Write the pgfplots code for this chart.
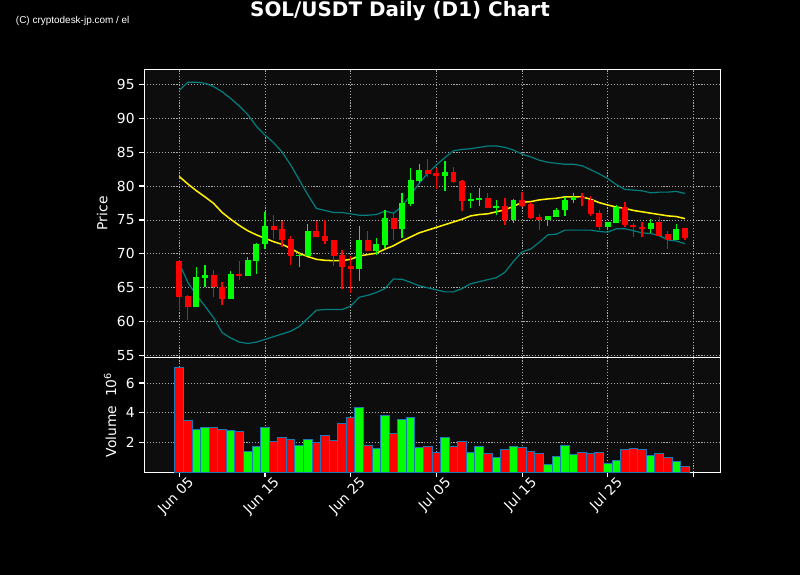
\documentclass[border=0pt]{standalone}
\usepackage{pgfplots}
\usepackage{pgfplotstable}
\pgfplotsset{compat=1.18}
\usepackage{fontspec}
\setmainfont{DejaVu Sans}
\newfontfamily\wmfont{Liberation Sans}
\definecolor{candred}{RGB}{255,0,0}
\definecolor{candgreen}{RGB}{0,255,0}
\definecolor{bandteal}{RGB}{0,128,128}
\definecolor{edgeblue}{RGB}{31,119,180}
\definecolor{axbg}{RGB}{13,13,13}
\definecolor{gridgray}{RGB}{170,170,170}

\pgfplotstableread{
d o h l c v
0 68.96 69.1 61.6 63.7 7.02
1 63.8 63.9 60.3 62.2 3.49
4 66.9 67.6 63.6 65.1 3.02
5 65.1 65.8 62.4 63.3 2.89
7 67.0 68.9 66.1 66.8 2.76
11 74.1 75.7 72.2 73.5 2.09
12 73.7 74.8 71.0 72.05 2.36
13 72.2 72.7 68.3 69.7 2.22
16 73.4 74.8 72.5 72.5 2.02
17 72.6 75.0 71.4 71.95 2.49
18 72.0 72.1 68.2 69.7 2.16
19 69.8 70.6 64.8 68.1 3.29
20 68.2 69.7 64.3 67.8 3.69
22 72.05 73.3 70.4 70.4 1.82
25 75.3 75.9 72.0 73.7 2.62
29 82.4 84.0 81.3 81.8 1.76
30 81.9 82.6 79.5 81.5 1.36
32 82.1 82.8 80.4 80.65 1.76
33 80.75 80.9 76.3 77.8 2.09
36 78.3 78.9 76.8 76.8 1.29
38 77.1 78.2 74.3 75.05 1.56
40 77.95 79.1 76.9 77.1 1.69
41 77.4 77.7 75.1 75.3 1.42
42 75.4 75.9 73.5 75.05 1.29
47 78.4 78.9 77.1 78.25 1.36
48 77.95 78.6 75.6 75.9 1.29
49 75.95 76.5 73.5 74.0 1.36
52 76.9 77.6 73.9 74.2 1.56
53 74.3 74.6 72.45 73.9 1.62
54 74.0 74.65 72.45 73.7 1.56
56 74.7 75.4 72.5 72.7 1.29
57 72.9 73.3 70.7 72.0 1.02
59 73.8 73.8 72.0 72.4 0.42
}\redtab

\pgfplotstableread{
d o h l c v
2 62.2 68.0 62.1 66.6 2.89
3 66.5 68.3 65.1 66.9 3.02
6 63.3 67.5 63.3 67.0 2.82
8 66.8 69.6 66.7 69.1 1.42
9 69.0 71.6 67.0 71.5 1.76
10 71.4 76.1 70.7 74.1 3.02
14 69.7 70.2 68.0 69.9 1.82
15 69.7 74.4 69.7 73.4 2.22
21 67.8 74.1 66.0 72.05 4.36
23 70.4 72.4 69.8 71.5 1.62
24 71.3 76.5 70.8 75.3 3.82
26 73.7 79.0 72.3 77.5 3.56
27 77.4 82.7 77.1 80.9 3.69
28 80.7 83.2 80.4 82.4 1.69
31 81.5 83.7 79.3 82.1 2.36
34 77.8 78.9 76.7 78.1 1.36
35 77.9 79.7 77.1 78.3 1.76
37 76.8 77.9 75.7 77.1 1.02
39 75.05 78.05 74.6 77.95 1.76
43 75.05 75.6 74.05 75.6 0.56
44 75.5 76.7 75.5 76.5 1.09
45 76.4 78.4 75.6 77.95 1.82
46 77.9 78.9 77.5 78.4 1.22
50 74.0 74.7 73.5 74.7 0.62
51 74.6 77.2 74.5 76.9 0.82
55 73.7 75.1 73.1 74.55 1.16
58 72.0 74.4 72.0 73.7 0.76
}\greentab

\pgfplotstableread{
d mid up lo
0 81.4 94.1 68.6
1 80.3 95.3 65.8
2 79.3 95.3 63.9
3 78.4 95.15 62.3
4 77.45 94.65 60.6
5 76.1 93.9 58.4
6 75.1 92.9 57.6
7 74.2 91.8 57.0
8 73.4 90.5 56.8
9 72.8 88.8 57.0
10 72.3 87.5 57.4
11 71.8 86.4 57.8
12 71.4 85.0 58.2
13 70.8 83.1 58.6
14 70.1 80.9 59.3
15 69.6 78.7 60.5
16 69.2 76.7 61.7
17 69.05 76.4 61.8
18 69.0 76.1 61.8
19 69.0 76.1 61.8
20 69.2 75.9 62.3
21 69.7 75.7 63.6
22 69.9 75.7 63.9
23 70.1 75.8 64.3
24 70.7 76.3 64.9
25 71.2 76.0 66.3
26 71.9 77.0 66.25
27 72.5 78.7 65.8
28 73.1 80.4 65.3
29 73.5 81.9 65.0
30 73.9 83.1 64.7
31 74.3 84.2 64.4
32 74.7 85.2 64.4
33 75.1 85.4 64.9
34 75.6 85.5 65.6
35 75.8 85.7 65.9
36 75.9 85.9 66.2
37 76.2 85.9 66.5
38 76.5 85.7 67.3
39 77.0 85.3 68.9
40 77.6 84.7 70.3
41 77.7 84.3 70.7
42 77.95 83.8 71.7
43 78.1 83.5 72.8
44 78.2 83.35 72.9
45 78.4 83.2 73.5
46 78.4 83.2 73.5
47 78.4 83.0 73.5
48 78.05 82.4 73.5
49 77.55 81.8 73.3
50 77.2 81.1 73.2
51 76.9 80.2 73.7
52 76.7 79.5 73.7
53 76.4 79.4 73.4
54 76.2 79.3 73.1
55 76.0 79.0 73.0
56 75.8 79.1 72.7
57 75.6 79.1 72.05
58 75.5 79.2 71.9
59 75.2 78.9 71.5
}\bandtab

\pgfplotsset{
  darkaxis/.style={
    scale only axis,
    width=414.7bp,
    xmin=-4.08, xmax=63.13,
    axis background/.style={fill=axbg},
    axis line style={white, line width=0.8bp},
    tick style={white, line width=0.8bp},
    tick align=outside,
    major tick length=3.5bp,
    xtick pos=bottom, ytick pos=left,
    grid=major,
    grid style={gridgray, line width=0.6bp, dash pattern=on 0.8bp off 1.3bp},
    ticklabel style={white, font=\fontsize{10}{12}\selectfont},
    label style={white, font=\fontsize{10}{12}\selectfont},
    /pgf/number format/assume math mode=true,
    xtick={0,10,...,60},
  },
}

\begin{document}
\begin{tikzpicture}
\fill[black] (0,0) rectangle (576bp,414bp);

% title and watermark
\node[anchor=base, text=white, font=\fontsize{14.4}{16}\selectfont\bfseries] at (288bp,402bp) {SOL/USDT Daily (D1) Chart};
\node[anchor=west, text=white, inner sep=0pt, font=\wmfont\fontsize{7.2}{8}\selectfont] at (11.3bp,399.2bp) {(C) cryptodesk-jp.com / el};

% price panel
\begin{axis}[darkaxis,
  at={(103.9bp,156.7bp)}, anchor=south west,
  height=207.4bp,
  ymin=54.75, ymax=97.2,
  ytick={55,60,...,95},
  xticklabels={}, xtick style={draw=none},
  ylabel={Price},
]
% bands
\addplot[bandteal, line width=0.85bp, mark=none] table[x=d, y=up] {\bandtab};
\addplot[bandteal, line width=0.85bp, mark=none] table[x=d, y=lo] {\bandtab};
\addplot[yellow, line width=1.1bp, mark=none] table[x=d, y=mid] {\bandtab};
% wicks
\addplot[draw=none, mark=none, error bars/.cd, y dir=plus, y explicit, error mark=none,
  error bar style={draw=candred, line width=0.9bp}]
  table[x=d, y=l, y error plus expr=\thisrow{h}-\thisrow{l}] {\redtab};
\addplot[draw=none, mark=none, error bars/.cd, y dir=plus, y explicit, error mark=none,
  error bar style={draw=candgreen, line width=0.9bp}]
  table[x=d, y=l, y error plus expr=\thisrow{h}-\thisrow{l}] {\greentab};
% bodies
\addplot[draw=none, mark=none, error bars/.cd, y dir=plus, y explicit, error mark=none,
  error bar style={draw=candred, line width=4.3bp}]
  table[x=d, y=c, y error plus expr=\thisrow{o}-\thisrow{c}] {\redtab};
\addplot[draw=none, mark=none, error bars/.cd, y dir=plus, y explicit, error mark=none,
  error bar style={draw=candgreen, line width=4.3bp}]
  table[x=d, y=o, y error plus expr=\thisrow{c}-\thisrow{o}] {\greentab};
\end{axis}

% volume panel
\begin{axis}[darkaxis,
  at={(103.9bp,73.9bp)}, anchor=south west,
  height=82.8bp,
  ymin=0, ymax=7.72,
  ytick={2,4,6},
  xticklabels={Jun 05,Jun 15,Jun 25,Jul 05,Jul 15,Jul 25,{}},
  xticklabel style={rotate=45, anchor=north east, xshift=8bp},
  ylabel={Volume\ \ 10\textsuperscript{6}},
]
\addplot[ybar, bar width=1, bar shift=0pt, fill=candred, draw=edgeblue, line width=0.7bp] table[x=d, y=v] {\redtab};
\addplot[ybar, bar width=1, bar shift=0pt, fill=candgreen, draw=edgeblue, line width=0.7bp] table[x=d, y=v] {\greentab};
\end{axis}

\pgfresetboundingbox
\useasboundingbox (0,0) rectangle (576bp,414bp);
\end{tikzpicture}
\end{document}
